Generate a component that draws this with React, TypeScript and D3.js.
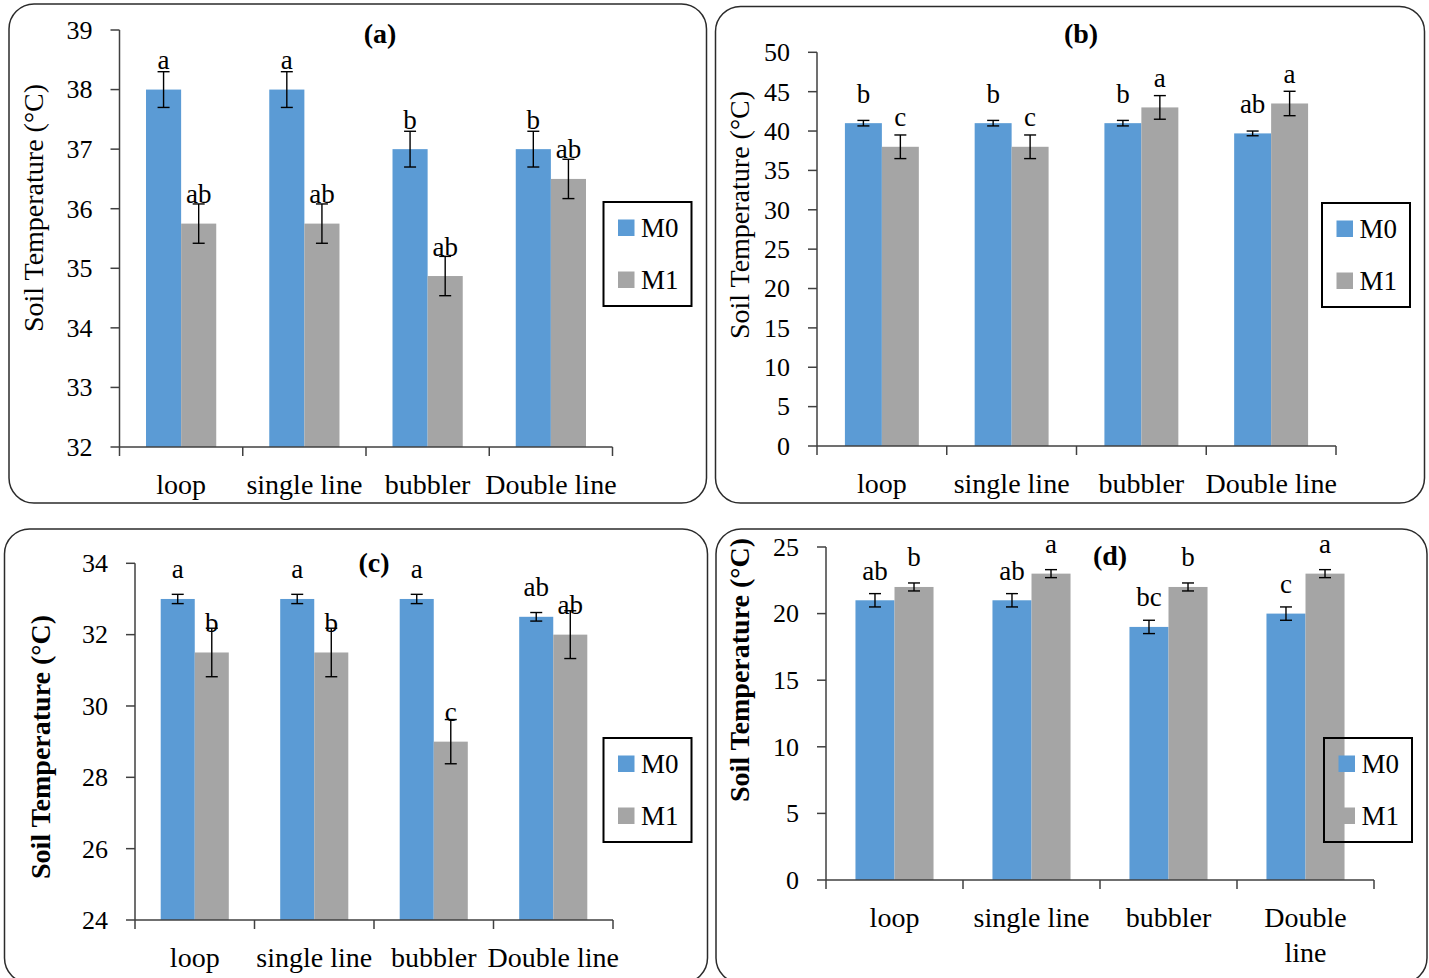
import React from 'react';
import * as d3 from 'd3';

// ---------- data ----------
const categories = ['loop', 'single line', 'bubbler', 'Double line'];
const seriesNames = ['M0', 'M1'];
const seriesColors = ['#5B9BD5', '#A5A5A5'];

// panel (a)
const aM0 = [38, 38, 37, 37];
const aM0Err = [0.3, 0.3, 0.3, 0.3];
const aM1 = [35.75, 35.75, 34.87, 36.5];
const aM1Err = [0.33, 0.33, 0.33, 0.33];
const aM0Letters = ['a', 'a', 'b', 'b'];
const aM1Letters = ['ab', 'ab', 'ab', 'ab'];
const aTicks = [32, 33, 34, 35, 36, 37, 38, 39];

// panel (b)
const bM0 = [41, 41, 41, 39.7];
const bM0Err = [0.35, 0.35, 0.35, 0.3];
const bM1 = [38, 38, 43, 43.5];
const bM1Err = [1.5, 1.5, 1.5, 1.55];
const bM0Letters = ['b', 'b', 'b', 'ab'];
const bM1Letters = ['c', 'c', 'a', 'a'];
const bTicks = [0, 5, 10, 15, 20, 25, 30, 35, 40, 45, 50];

// panel (c)
const cM0 = [33, 33, 33, 32.5];
const cM0Err = [0.13, 0.13, 0.13, 0.12];
const cM1 = [31.5, 31.5, 29, 32];
const cM1Err = [0.68, 0.68, 0.62, 0.67];
const cM0Letters = ['a', 'a', 'a', 'ab'];
const cM1Letters = ['b', 'b', 'c', 'ab'];
const cTicks = [24, 26, 28, 30, 32, 34];

// panel (d)
const dM0 = [21, 21, 19, 20];
const dM0Err = [0.5, 0.5, 0.5, 0.5];
const dM1 = [22, 23, 22, 23];
const dM1Err = [0.3, 0.3, 0.3, 0.3];
const dM0Letters = ['ab', 'ab', 'bc', 'c'];
const dM1Letters = ['b', 'a', 'b', 'a'];
const dTicks = [0, 5, 10, 15, 20, 25];
const dCategoryLines = [['loop'], ['single line'], ['bubbler'], ['Double', 'line']];

const yTitle = 'Soil Temperature (°C)';
const FONT = '"Liberation Serif", "Times New Roman", serif';

type PanelProps = {
  title: string;
  m0: number[]; m0Err: number[]; m1: number[]; m1Err: number[];
  m0Letters: string[]; m1Letters: string[];
  ticks: number[];
  catLines: string[][];
  box: { x: number; y: number; w: number; h: number };
  plot: { left: number; right: number; top: number; bottom: number };
  titlePos: { x: number; y: number };
  yTitlePos: { x: number; y: number; bold: boolean };
  legend: { x: number; y: number };
};

function Panel(p: PanelProps) {
  const domain = d3.extent(p.ticks) as [number, number];
  const y = d3.scaleLinear().domain(domain).range([p.plot.bottom, p.plot.top]);
  const x0 = d3.scaleBand<string>().domain(categories).range([p.plot.left, p.plot.right]).padding(0);
  const x1 = d3.scaleBand<string>().domain(seriesNames).range([0, x0.bandwidth()]).paddingInner(0).paddingOuter(0.755);
  const series = [
    { name: 'M0', vals: p.m0, errs: p.m0Err, letters: p.m0Letters, color: seriesColors[0] },
    { name: 'M1', vals: p.m1, errs: p.m1Err, letters: p.m1Letters, color: seriesColors[1] },
  ];
  const bw = x1.bandwidth();
  const boundaries = categories.map((c) => x0(c) as number).concat([p.plot.right]);
  const axisColor = '#404040';
  return (
    <g>
      <rect x={p.box.x} y={p.box.y} width={p.box.w} height={p.box.h} rx={25} ry={25}
        fill="#fff" stroke="#2b2b2b" strokeWidth={1.5} />
      {/* bars */}
      {series.map((s) =>
        categories.map((c, i) => {
          const bx = (x0(c) as number) + (x1(s.name) as number);
          const by = y(s.vals[i]);
          return (
            <rect key={s.name + c} x={bx} y={by} width={bw} height={p.plot.bottom - by} fill={s.color} />
          );
        })
      )}
      {/* error bars */}
      {series.map((s) =>
        categories.map((c, i) => {
          const cx = (x0(c) as number) + (x1(s.name) as number) + bw / 2;
          const yt = y(s.vals[i] + s.errs[i]);
          const yb = y(s.vals[i] - s.errs[i]);
          return (
            <g key={'e' + s.name + c} stroke="#000" strokeWidth={1.4}>
              <line x1={cx} x2={cx} y1={yt} y2={yb} />
              <line x1={cx - 6} x2={cx + 6} y1={yt} y2={yt} />
              <line x1={cx - 6} x2={cx + 6} y1={yb} y2={yb} />
            </g>
          );
        })
      )}
      {/* letters */}
      {series.map((s) =>
        categories.map((c, i) => {
          const cx = (x0(c) as number) + (x1(s.name) as number) + bw / 2;
          return (
            <text key={'l' + s.name + c} x={cx} y={y(s.vals[i]) - 20.5} textAnchor="middle"
              fontFamily={FONT} fontSize={27} fill="#000">{s.letters[i]}</text>
          );
        })
      )}
      {/* y axis */}
      <line x1={p.plot.left} x2={p.plot.left} y1={p.plot.top} y2={p.plot.bottom} stroke={axisColor} strokeWidth={1.5} />
      {p.ticks.map((t) => (
        <g key={'t' + t}>
          <line x1={p.plot.left - 9} x2={p.plot.left} y1={y(t)} y2={y(t)} stroke={axisColor} strokeWidth={1.5} />
          <text x={p.plot.left - 27} y={y(t)} dy="0.34em" textAnchor="end" fontFamily={FONT} fontSize={26} fill="#000">{t}</text>
        </g>
      ))}
      {/* x axis */}
      <line x1={p.plot.left} x2={p.plot.right} y1={p.plot.bottom} y2={p.plot.bottom} stroke={axisColor} strokeWidth={1.5} />
      {boundaries.map((bx, i) => (
        <line key={'xt' + i} x1={bx} x2={bx} y1={p.plot.bottom} y2={p.plot.bottom + 9} stroke={axisColor} strokeWidth={1.5} />
      ))}
      {categories.map((c, i) => {
        const cx = (x0(c) as number) + x0.bandwidth() / 2;
        return p.catLines[i].map((ln, j) => (
          <text key={'c' + c + j} x={cx} y={p.plot.bottom + 47 + j * 35} textAnchor="middle"
            fontFamily={FONT} fontSize={28} fill="#000">{ln}</text>
        ));
      })}
      {/* title */}
      <text x={p.titlePos.x} y={p.titlePos.y} textAnchor="middle" fontFamily={FONT} fontSize={28}
        fontWeight="bold" fill="#000">{p.title}</text>
      {/* y title */}
      <text transform={`translate(${p.yTitlePos.x},${p.yTitlePos.y}) rotate(-90)`} textAnchor="middle"
        fontFamily={FONT} fontSize={28} fontWeight={p.yTitlePos.bold ? 'bold' : 'normal'} fill="#000">{yTitle}</text>
      {/* legend */}
      <g>
        <rect x={p.legend.x} y={p.legend.y} width={88} height={104} fill="none" stroke="#000" strokeWidth={2} />
        {series.map((s, i) => (
          <g key={'lg' + s.name}>
            <rect x={p.legend.x + 14.5} y={p.legend.y + 17.5 + i * 52} width={16.5} height={16.5} fill={s.color} />
            <text x={p.legend.x + 37.5} y={p.legend.y + 34.5 + i * 52} fontFamily={FONT} fontSize={27} fill="#000">{s.name}</text>
          </g>
        ))}
      </g>
    </g>
  );
}

export default function App() {
  const single = categories.map((c) => [c]);
  return (
    <svg width={1429} height={978} style={{ position: 'absolute', left: 0, top: 0, background: '#fff' }}>
      <rect x={0} y={0} width={1429} height={978} fill="#fff" />
      <Panel title="(a)" m0={aM0} m0Err={aM0Err} m1={aM1} m1Err={aM1Err}
        m0Letters={aM0Letters} m1Letters={aM1Letters} ticks={aTicks} catLines={single}
        box={{ x: 9, y: 4, w: 697.5, h: 499 }}
        plot={{ left: 119.5, right: 612.5, top: 30, bottom: 447 }}
        titlePos={{ x: 380, y: 43 }} yTitlePos={{ x: 42.5, y: 208, bold: false }}
        legend={{ x: 603.5, y: 202 }} />
      <Panel title="(b)" m0={bM0} m0Err={bM0Err} m1={bM1} m1Err={bM1Err}
        m0Letters={bM0Letters} m1Letters={bM1Letters} ticks={bTicks} catLines={single}
        box={{ x: 715.5, y: 6.5, w: 709, h: 496.5 }}
        plot={{ left: 817, right: 1336, top: 52.3, bottom: 446 }}
        titlePos={{ x: 1081, y: 43 }} yTitlePos={{ x: 748.5, y: 215, bold: false }}
        legend={{ x: 1322, y: 203 }} />
      <Panel title="(c)" m0={cM0} m0Err={cM0Err} m1={cM1} m1Err={cM1Err}
        m0Letters={cM0Letters} m1Letters={cM1Letters} ticks={cTicks} catLines={single}
        box={{ x: 4.5, y: 529, w: 703, h: 454 }}
        plot={{ left: 135, right: 613, top: 563.3, bottom: 920 }}
        titlePos={{ x: 374, y: 572 }} yTitlePos={{ x: 50, y: 747, bold: true }}
        legend={{ x: 603.5, y: 738 }} />
      <Panel title="(d)" m0={dM0} m0Err={dM0Err} m1={dM1} m1Err={dM1Err}
        m0Letters={dM0Letters} m1Letters={dM1Letters} ticks={dTicks} catLines={dCategoryLines}
        box={{ x: 716, y: 529, w: 711, h: 454 }}
        plot={{ left: 826, right: 1374, top: 547, bottom: 880 }}
        titlePos={{ x: 1110, y: 565 }} yTitlePos={{ x: 749, y: 670, bold: true }}
        legend={{ x: 1324, y: 738 }} />
    </svg>
  );
}
